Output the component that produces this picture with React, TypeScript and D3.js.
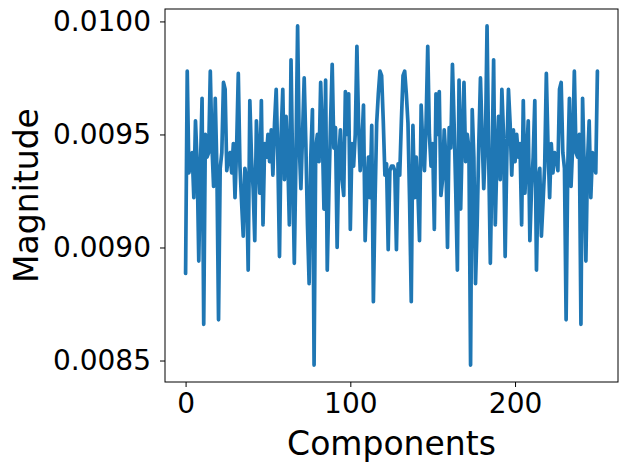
import React, { useEffect, useRef } from "react";
import * as d3 from "d3";

// magnitude per component
const magnitude: number[] = [
  0.008885, 0.00978, 0.00933, 0.00936, 0.00942, 0.00922, 0.00956, 0.00938, 0.00894, 0.00935,
  0.00966, 0.00866, 0.0095, 0.0094, 0.00942, 0.00978, 0.00945, 0.00927, 0.00966, 0.00935,
  0.00868, 0.00935, 0.00942, 0.00973, 0.0097, 0.00934, 0.0094, 0.00942, 0.00933, 0.00946,
  0.00922, 0.00945, 0.00977, 0.00936, 0.0092, 0.00905, 0.00935, 0.0093, 0.0089, 0.00965,
  0.0094, 0.00926, 0.00903, 0.00956, 0.0094, 0.00924, 0.00965, 0.0091, 0.00946, 0.0094,
  0.0095, 0.00938, 0.00952, 0.00932, 0.00955, 0.0097, 0.0094, 0.00896, 0.0095, 0.0097,
  0.0093, 0.00958, 0.0094, 0.0091, 0.00983, 0.00935, 0.00893, 0.0094, 0.00998, 0.00945,
  0.00926, 0.0095, 0.00975, 0.00946, 0.0091, 0.00884, 0.0094, 0.00961, 0.00848, 0.00944,
  0.0095, 0.00938, 0.00973, 0.0095, 0.00917, 0.00974, 0.0089, 0.00925, 0.00955, 0.00981,
  0.00944, 0.00953, 0.009, 0.0094, 0.00952, 0.0093, 0.00923, 0.00969, 0.0095, 0.00968,
  0.00908, 0.00946, 0.00936, 0.0095, 0.00989, 0.00955, 0.00934, 0.00945, 0.00963, 0.00903,
  0.00925, 0.0094, 0.00922, 0.00954, 0.00876, 0.0092, 0.00955, 0.00968, 0.00978, 0.00976,
  0.00956, 0.00932, 0.00937, 0.00899, 0.00934, 0.00936,
  0.00936, 0.00934, 0.00899, 0.00937, 0.00932, 0.00956, 0.00976, 0.00978, 0.00968, 0.00955,
  0.0092, 0.00876, 0.00954, 0.00922, 0.0094, 0.00925, 0.00903, 0.00963, 0.00945, 0.00934,
  0.00955, 0.00989, 0.0095, 0.00936, 0.00946, 0.00908, 0.00968, 0.0095, 0.00969, 0.00923,
  0.0093, 0.00952, 0.0094, 0.009, 0.00953, 0.00944, 0.00981, 0.00955, 0.00925, 0.0089,
  0.00974, 0.00917, 0.0095, 0.00973, 0.00938, 0.0095, 0.00944, 0.00848, 0.00961, 0.0094,
  0.00884, 0.0091, 0.00946, 0.00975, 0.0095, 0.00926, 0.00945, 0.00998, 0.0094, 0.00893,
  0.00935, 0.00983, 0.0091, 0.0094, 0.00958, 0.0093, 0.0097, 0.0095, 0.00896, 0.0094,
  0.0097, 0.00955, 0.00932, 0.00952, 0.00938, 0.0095, 0.0094, 0.00946, 0.0091, 0.00965,
  0.00924, 0.0094, 0.00956, 0.00903, 0.00926, 0.0094, 0.00965, 0.0089, 0.0093, 0.00935,
  0.00905, 0.0092, 0.00936, 0.00977, 0.00945, 0.00922, 0.00946, 0.00933, 0.00942, 0.0094,
  0.00934, 0.0097, 0.00973, 0.00942, 0.00935, 0.00868, 0.00935, 0.00966, 0.00927, 0.00945,
  0.00978, 0.00942, 0.0094, 0.0095, 0.00866, 0.00966, 0.00935, 0.00894, 0.00938, 0.00956,
  0.00922, 0.00942, 0.00936, 0.00933, 0.00978,
];
const xTicks = [0, 100, 200];
const yTicks = [0.0085, 0.009, 0.0095, 0.01];

const W = 630;
const H = 470;
const margin = { left: 165, right: 12, top: 9, bottom: 88 };

const App = () => {
  const ref = useRef<SVGSVGElement>(null);

  useEffect(() => {
    const svg = d3.select(ref.current);
    svg.selectAll("*").remove();

    const n = magnitude.length - 1;
    const x = d3.scaleLinear()
      .domain([-0.05 * n, n * 1.05])
      .range([margin.left, W - margin.right]);
    const lo = d3.min(magnitude)!;
    const hi = d3.max(magnitude)!;
    const pad = (hi - lo) * 0.05;
    const y = d3.scaleLinear()
      .domain([lo - pad, hi + pad])
      .range([H - margin.bottom, margin.top]);

    const line = d3.line<number>()
      .x((d, i) => x(i))
      .y((d) => y(d));

    svg.append("path")
      .datum(magnitude)
      .attr("d", line)
      .attr("fill", "none")
      .attr("stroke", "#1f77b4")
      .attr("stroke-width", 3.7)
      .attr("stroke-linejoin", "round")
      .attr("stroke-linecap", "round");

    const font = "DejaVu Sans";

    svg.append("g")
      .attr("transform", `translate(0,${H - margin.bottom})`)
      .call(d3.axisBottom(x).tickValues(xTicks).tickFormat(d3.format("d")).tickSizeOuter(0).tickSize(5).tickPadding(6))
      .call((g) => g.select(".domain").remove())
      .call((g) => g.selectAll("text").attr("font-family", font).attr("font-size", 28).attr("fill", "#000"));

    svg.append("g")
      .attr("transform", `translate(${margin.left},0)`)
      .call(d3.axisLeft(y).tickValues(yTicks).tickFormat(d3.format(".4f")).tickSizeOuter(0).tickSize(5).tickPadding(9))
      .call((g) => g.select(".domain").remove())
      .call((g) => g.selectAll("text").attr("font-family", font).attr("font-size", 28).attr("fill", "#000"));

    svg.append("rect")
      .attr("x", margin.left)
      .attr("y", margin.top)
      .attr("width", W - margin.left - margin.right)
      .attr("height", H - margin.top - margin.bottom)
      .attr("fill", "none")
      .attr("stroke", "#000")
      .attr("stroke-width", 1);

    svg.append("text")
      .attr("x", (margin.left + W - margin.right) / 2)
      .attr("y", 455)
      .attr("text-anchor", "middle")
      .attr("font-family", font)
      .attr("font-size", 33)
      .text("Components");

    svg.append("text")
      .attr("transform", `translate(38,${(margin.top + H - margin.bottom) / 2}) rotate(-90)`)
      .attr("text-anchor", "middle")
      .attr("font-family", font)
      .attr("font-size", 33)
      .text("Magnitude");
  }, []);

  return (
    <svg
      ref={ref}
      width={W}
      height={H}
      style={{ position: "absolute", left: 0, top: 0, background: "#fff" }}
    />
  );
};

export default App;
